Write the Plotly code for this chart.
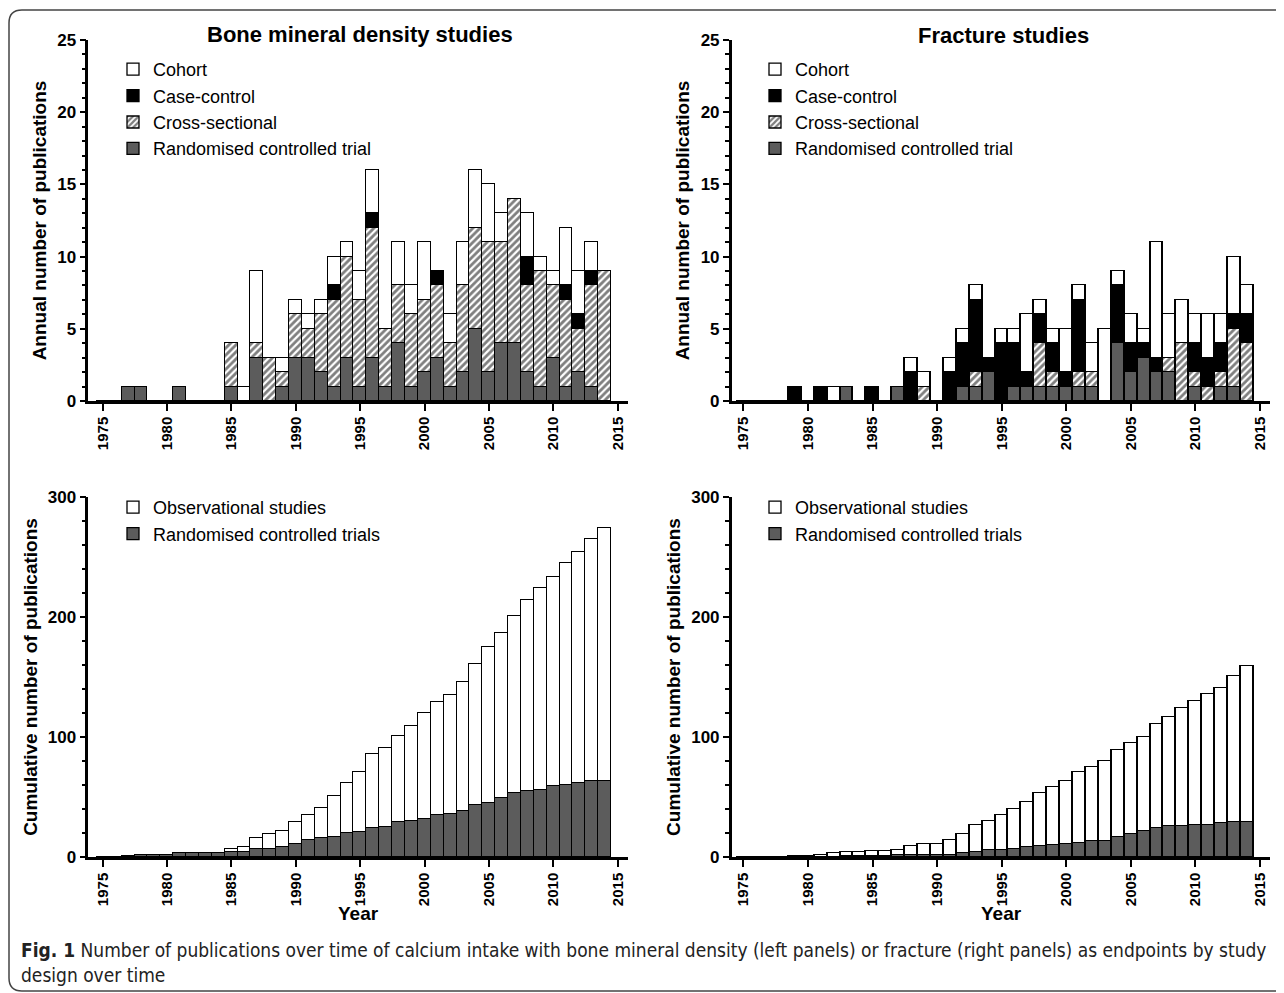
import numpy as np
import plotly.graph_objects as go

years = list(range(1975, 2015))

# Bone mineral density studies - annual counts by design
bmd_rct = [0,0,1,1,0,0,1,0,0,0, 1,0,3,0,1,3,3,2,1,3, 1,3,1,4,1,2,3,1,2,5, 2,4,4,2,1,3,1,2,1,0]
bmd_cross = [0,0,0,0,0,0,0,0,0,0, 3,0,1,3,1,3,2,4,6,7, 6,9,4,4,5,5,5,3,6,7, 9,7,10,6,8,5,6,3,7,9]
bmd_cc = [0,0,0,0,0,0,0,0,0,0, 0,0,0,0,0,0,0,0,1,0, 0,1,0,0,0,0,1,0,0,0, 0,0,0,2,0,0,1,1,1,0]
bmd_cohort = [0,0,0,0,0,0,0,0,0,0, 0,1,5,0,1,1,1,1,2,1, 2,3,0,3,2,4,0,2,3,4, 4,2,0,3,1,1,4,3,2,0]

# Fracture studies - annual counts by design
fr_rct = [0,0,0,0,0,0,0,0,1,0, 0,0,1,0,0,0,0,1,1,2, 0,1,1,1,1,1,1,1,0,4, 2,3,2,2,0,1,0,1,1,0]
fr_cross = [0,0,0,0,0,0,0,0,0,0, 0,0,0,0,1,0,0,0,1,0, 0,0,0,3,1,0,1,1,0,0, 0,0,0,1,4,1,1,1,4,4]
fr_cc = [0,0,0,0,1,0,1,0,0,0, 1,0,0,2,0,0,2,3,5,1, 4,3,1,2,2,1,5,0,0,4, 2,1,1,0,0,2,2,2,1,2]
fr_cohort = [0,0,0,0,0,0,0,1,0,0, 0,0,0,1,1,0,1,1,1,0, 1,1,4,1,1,3,1,2,5,1, 2,1,8,3,3,2,3,2,4,2]

# Cumulative counts
bmd_cum_total = [0,0,1,2,2,2,3,3,3,3, 7,8,16,19,22,29,35,41,51,62, 71,86,91,101,109,120,129,135,146,161,
                 175,187,201,214,224,233,245,254,265,274]
bmd_cum_rct = [0,0,1,2,2,2,3,3,3,3, 4,4,7,7,8,11,14,16,17,20, 21,24,25,29,30,32,35,36,38,43,
               45,49,53,55,56,59,60,62,63,63]
fr_cum_total = [0,0,0,0,1,1,2,3,4,4, 5,5,6,9,11,11,14,19,27,30, 35,40,46,53,58,63,71,75,80,89,
                95,100,111,117,124,130,136,141,151,159]
fr_cum_rct = [0,0,0,0,0,0,0,0,1,1, 1,1,2,2,2,2,2,3,4,6, 6,7,8,9,10,11,12,13,13,17,
              19,22,24,26,26,27,27,28,29,29]

x_ticks = [1975, 1980, 1985, 1990, 1995, 2000, 2005, 2010, 2015]

OFF = 8  # page body margin
W, H = 1284 - OFF, 993 - OFF
FONT = "Liberation Sans, Arial, sans-serif"
GRAY = "#5c5c5c"
LINE = dict(color="black", width=1.3)


def px(x):
    return (x - OFF) / W


def py(y):
    return 1 - (y - OFF) / H


fig = go.Figure()


def design_traces(rct, cross, cc, cohort, xa, ya, leg):
    specs = [
        ("Randomised controlled trial", rct, dict(color=GRAY, line=LINE)),
        ("Cross-sectional", cross, dict(color="white", line=LINE,
                                        pattern=dict(shape="/", fgcolor="black", bgcolor="white",
                                                     size=5, solidity=0.55))),
        ("Case-control", cc, dict(color="black", line=LINE)),
        ("Cohort", cohort, dict(color="white", line=LINE)),
    ]
    for name, vals, marker in specs:
        fig.add_trace(go.Bar(x=years, y=vals, name=name, marker=marker, width=1,
                             xaxis=xa, yaxis=ya, legend=leg))


def cum_traces(total, rct, xa, ya, leg):
    obs = (np.array(total) - np.array(rct)).tolist()
    fig.add_trace(go.Bar(x=years, y=rct, name="Randomised controlled trials",
                         marker=dict(color=GRAY, line=LINE), width=1,
                         xaxis=xa, yaxis=ya, legend=leg))
    fig.add_trace(go.Bar(x=years, y=obs, name="Observational studies",
                         marker=dict(color="white", line=LINE), width=1,
                         xaxis=xa, yaxis=ya, legend=leg))


design_traces(bmd_rct, bmd_cross, bmd_cc, bmd_cohort, "x", "y", "legend")
design_traces(fr_rct, fr_cross, fr_cc, fr_cohort, "x2", "y2", "legend2")
cum_traces(bmd_cum_total, bmd_cum_rct, "x3", "y3", "legend3")
cum_traces(fr_cum_total, fr_cum_rct, "x4", "y4", "legend4")

left_dom = [px(88.3), px(628.3)]
right_dom = [px(731.7), px(1270)]
top_dom = [py(401), py(40)]
bot_dom = [py(857), py(497)]
left_rng = [1973.88, 2015.82]
right_rng = [1974.1, 2015.77]

xcommon = dict(tickvals=x_ticks, ticks="outside", ticklen=7, tickwidth=2, tickcolor="black",
               showline=True, linewidth=2.5, linecolor="black", tickangle=-90,
               tickfont=dict(family=FONT, size=15, color="black", weight="bold"),
               showgrid=False, zeroline=False, automargin=False)
ycommon = dict(ticks="outside", ticklen=6, tickwidth=2, tickcolor="black",
               showline=True, linewidth=2.5, linecolor="black",
               tickfont=dict(family=FONT, size=17, color="black", weight="bold"),
               showgrid=False, zeroline=False, automargin=False,
               title_font=dict(family=FONT, size=19, color="black", weight="bold"),
               title_standoff=6)


def xax(dom, rng, anchor):
    d = dict(xcommon)
    d.update(domain=dom, range=rng, anchor=anchor)
    return d


def yax(dom, rng, dtick, mdtick, title, anchor):
    d = dict(ycommon)
    d.update(domain=dom, range=rng, dtick=dtick, anchor=anchor, title_text=title,
             minor=dict(dtick=mdtick, ticks="outside", ticklen=4, tickwidth=2, tickcolor="black",
                        showgrid=False))
    return d


legend_common = dict(bgcolor="rgba(0,0,0,0)", traceorder="reversed",
                     font=dict(family=FONT, size=18, color="black"),
                     xanchor="left", yanchor="top")

fig.update_layout(
    width=W, height=H,
    margin=dict(l=0, r=0, t=0, b=0, autoexpand=False),
    paper_bgcolor="white", plot_bgcolor="white",
    barmode="stack", bargap=0,
    xaxis=xax(left_dom, left_rng, "y"),
    yaxis=yax(top_dom, [0, 25], 5, 1, "Annual number of publications", "x"),
    xaxis2=xax(right_dom, right_rng, "y2"),
    yaxis2=yax(top_dom, [0, 25], 5, 1, "Annual number of publications", "x2"),
    xaxis3=xax(left_dom, left_rng, "y3"),
    yaxis3=yax(bot_dom, [0, 300], 100, 20, "Cumulative number of publications", "x3"),
    xaxis4=xax(right_dom, right_rng, "y4"),
    yaxis4=yax(bot_dom, [0, 300], 100, 20, "Cumulative number of publications", "x4"),
    legend=dict(legend_common, x=px(113), y=py(51)),
    legend2=dict(legend_common, x=px(755), y=py(51)),
    legend3=dict(legend_common, x=px(113), y=py(489)),
    legend4=dict(legend_common, x=px(755), y=py(489)),
    showlegend=True,
)

annots = [
    dict(text="<b>Bone mineral density studies</b>", x=px(360), y=py(35),
         font=dict(family=FONT, size=22, color="black")),
    dict(text="<b>Fracture studies</b>", x=px(1003), y=py(36),
         font=dict(family=FONT, size=22, color="black")),
    dict(text="<b>Year</b>", x=px(358), y=py(913),
         font=dict(family=FONT, size=19, color="black")),
    dict(text="<b>Year</b>", x=px(1001), y=py(913),
         font=dict(family=FONT, size=19, color="black")),
]
for a in annots:
    fig.add_annotation(xref="paper", yref="paper", showarrow=False,
                       xanchor="center", yanchor="middle", **a)

caption = ("<b>Fig. 1</b> Number of publications over time of calcium intake with bone mineral "
           "density (left panels) or fracture (right panels) as endpoints by study<br>design over time")
fig.add_annotation(xref="paper", yref="paper", showarrow=False, x=px(19), y=py(937),
                   xanchor="left", yanchor="top", align="left", text=caption,
                   font=dict(family="DejaVu Sans Condensed, Liberation Sans Narrow, Liberation Sans",
                             size=19, color="#222222"))

# rounded frame around the figure
x0, x1, y0, y1 = px(9), px(1300), py(10), py(991)
rx, ry = 13 / W, 13 / H
path = (f"M {x0+rx} {y0} L {x1} {y0} L {x1} {y1} L {x0+rx} {y1} "
        f"Q {x0} {y1} {x0} {y1+ry} L {x0} {y0-ry} Q {x0} {y0} {x0+rx} {y0} Z")
fig.add_shape(type="path", xref="paper", yref="paper", path=path,
              line=dict(color="#444444", width=1.5), fillcolor="rgba(0,0,0,0)", layer="below")

fig.write_html("out.html")
